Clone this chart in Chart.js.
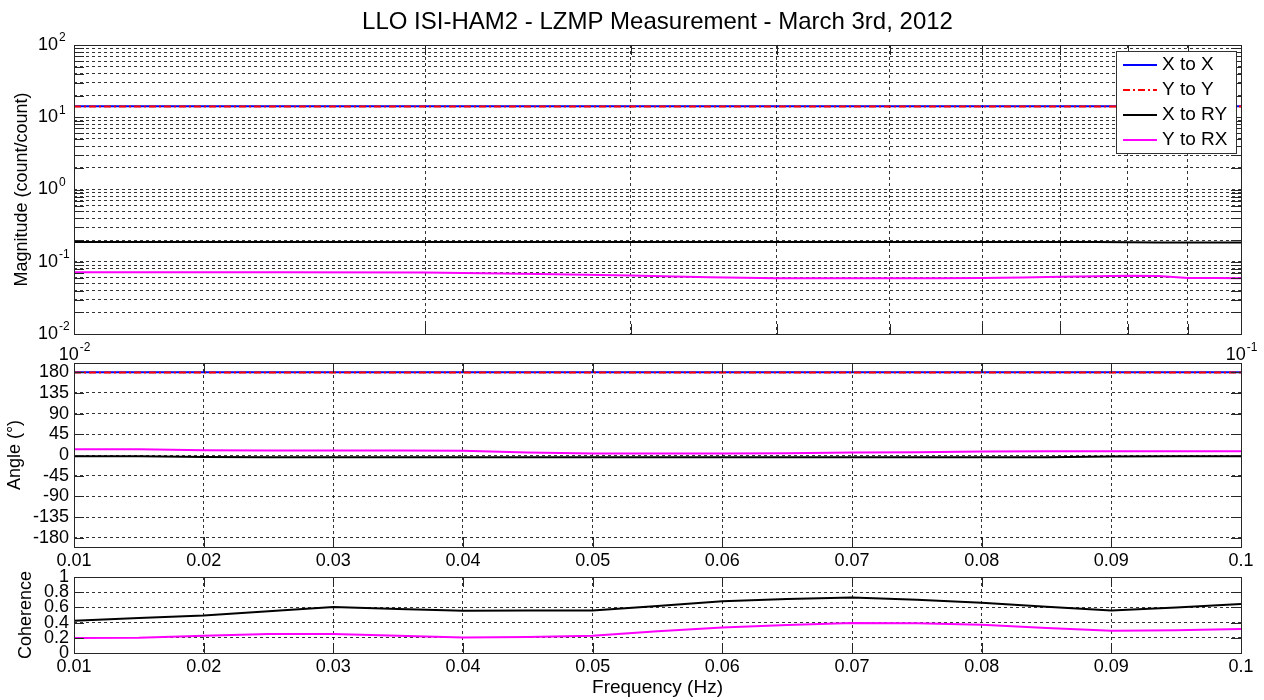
<!DOCTYPE html>
<html>
<head>
<meta charset="utf-8">
<title>LLO ISI-HAM2 - LZMP Measurement</title>
<script src="https://cdn.jsdelivr.net/npm/chart.js@4.4.0/dist/chart.umd.min.js"></script>
<style>
  html, body { margin: 0; padding: 0; background: #fff; }
  #wrap { position: relative; width: 1264px; height: 700px; }
  #wrap canvas { position: absolute; left: 0; top: 0; }
</style>
</head>
<body>
<div id="wrap">
  <canvas id="mag" width="1264" height="700"></canvas>
  <canvas id="ang" width="1264" height="700"></canvas>
  <canvas id="coh" width="1264" height="700"></canvas>
</div>
<script>
const FONT = "'Liberation Sans', Arial, Helvetica, sans-serif";
const GRID = 'rgba(0,0,0,0.8)';

// frequency points (Hz)
const freq = [0.01, 0.015, 0.02, 0.025, 0.03, 0.035, 0.04, 0.045, 0.05, 0.055,
              0.06, 0.065, 0.07, 0.075, 0.08, 0.085, 0.09, 0.095, 0.1];

const seriesNames = ['X to X', 'Y to Y', 'X to RY', 'Y to RX'];

// magnitude (count/count)
const magXtoX  = [14.2, 14.2, 14.2, 14.2, 14.2, 14.2, 14.2, 14.2, 14.2, 14.2,
                  14.2, 14.2, 14.2, 14.2, 14.2, 14.2, 14.2, 14.2, 14.2];
const magYtoY  = [14.1, 14.1, 14.1, 14.1, 14.1, 14.1, 14.1, 14.1, 14.1, 14.1,
                  14.1, 14.1, 14.1, 14.1, 14.1, 14.1, 14.1, 14.1, 14.1];
const magXtoRY = [0.187, 0.187, 0.187, 0.187, 0.187, 0.187, 0.187, 0.187, 0.187, 0.187,
                  0.187, 0.187, 0.187, 0.187, 0.186, 0.185, 0.185, 0.184, 0.184];
const magYtoRX = [0.0718, 0.0714, 0.0709, 0.0676, 0.0645, 0.0612, 0.0591, 0.059, 0.059, 0.0592,
                  0.0596, 0.0604, 0.0618, 0.063, 0.064, 0.0635, 0.0598, 0.0594, 0.0591];

// angle (deg)
const angXtoX  = [180, 180, 180, 180, 180, 180, 180, 180, 180, 180,
                  180, 180, 180, 180, 180, 180, 180, 180, 180];
const angYtoY  = [179.6, 179.6, 179.6, 179.6, 179.6, 179.6, 179.6, 179.6, 179.6, 179.6,
                  179.6, 179.6, 179.6, 179.6, 179.6, 179.6, 179.6, 179.6, 179.6];
const angXtoRY = [-2.6, -2.6, -4.5, -4.8, -4.8, -4.8, -4.8, -4.8, -4.8, -4.8,
                  -4.8, -4.8, -4.8, -4.8, -4.8, -4.8, -3.5, -2.6, -2.6];
const angYtoRX = [12.7, 12.7, 10.5, 10, 10, 10, 9, 5.5, 3.3, 3.3,
                  3.3, 4, 5.5, 6.1, 7.5, 8.3, 8.3, 8.3, 8.3];

// coherence
const cohXtoX  = [1, 1, 1, 1, 1, 1, 1, 1, 1, 1, 1, 1, 1, 1, 1, 1, 1, 1, 1];
const cohYtoY  = [1, 1, 1, 1, 1, 1, 1, 1, 1, 1, 1, 1, 1, 1, 1, 1, 1, 1, 1];
const cohXtoRY = [0.425, 0.46, 0.495, 0.55, 0.605, 0.58, 0.557, 0.558, 0.56, 0.62,
                  0.68, 0.71, 0.73, 0.70, 0.66, 0.61, 0.56, 0.60, 0.645];
const cohYtoRX = [0.197, 0.20, 0.228, 0.25, 0.25, 0.228, 0.205, 0.21, 0.228, 0.285,
                  0.337, 0.37, 0.395, 0.39, 0.372, 0.33, 0.293, 0.30, 0.316];

// ticks
const decadeExps = [-2, -1, 0, 1];
const minorSteps = [1, 2, 3, 4, 5, 6, 7, 8, 9];
const magYTicks = [];
decadeExps.forEach(e => minorSteps.forEach(m => magYTicks.push(+(m * Math.pow(10, e)).toPrecision(3))));
magYTicks.push(100);
const magXTicks = [0.01, 0.02, 0.03, 0.04, 0.05, 0.06, 0.07, 0.08, 0.09, 0.1];
const magYLabels = [-2, -1, 0, 1, 2];
const magXLabels = [-2, -1];
const freqTicks = [0.01, 0.02, 0.03, 0.04, 0.05, 0.06, 0.07, 0.08, 0.09, 0.1];
const angleTicks = [-180, -135, -90, -45, 0, 45, 90, 135, 180];
const cohTicks = [0, 0.2, 0.4, 0.6, 0.8, 1];

const seriesStyle = [
  { color: '#0000ff', dash: [] },
  { color: '#ff0000', dash: [7, 3, 2, 3] },
  { color: '#000000', dash: [] },
  { color: '#ff00ff', dash: [] }
];

function makeSets(rows) {
  return rows.map((vals, k) => ({
    label: seriesNames[k],
    data: freq.map((f, i) => ({ x: f, y: vals[i] })),
    borderColor: seriesStyle[k].color,
    borderDash: seriesStyle[k].dash,
    borderWidth: 2,
    pointRadius: 0,
    tension: 0,
    fill: false,
    order: 4 - k
  }));
}

function setTicks(list) {
  return s => { s.ticks = list.map(v => ({ value: v })); };
}

// box around plot area with inward tick marks, like the original
const frame = {
  id: 'frame',
  afterDraw(chart) {
    const { ctx, chartArea: a, scales } = chart;
    ctx.save();
    ctx.strokeStyle = '#262626';
    ctx.lineWidth = 1;
    ctx.setLineDash([]);
    ctx.beginPath();
    scales.x.ticks.forEach(t => {
      const px = Math.round(scales.x.getPixelForValue(t.value)) + 0.5;
      ctx.moveTo(px, a.bottom); ctx.lineTo(px, a.bottom - 10);
      ctx.moveTo(px, a.top); ctx.lineTo(px, a.top + 10);
    });
    scales.y.ticks.forEach(t => {
      const py = Math.round(scales.y.getPixelForValue(t.value)) + 0.5;
      ctx.moveTo(a.left, py); ctx.lineTo(a.left + 10, py);
      ctx.moveTo(a.right, py); ctx.lineTo(a.right - 10, py);
    });
    ctx.stroke();
    ctx.strokeRect(Math.round(a.left) + 0.5, Math.round(a.top) + 0.5,
                   Math.round(a.right - a.left), Math.round(a.bottom - a.top));
    ctx.restore();
  }
};

function drawPow(ctx, e, x, y, align) {
  const base = '10', sup = String(e);
  ctx.font = '18px ' + FONT;
  const wb = ctx.measureText(base).width;
  ctx.font = '12px ' + FONT;
  const ws = ctx.measureText(sup).width;
  const x0 = align === 'right' ? x - wb : x - (wb + ws) / 2;
  ctx.fillStyle = '#000';
  ctx.textAlign = 'left';
  ctx.textBaseline = 'middle';
  ctx.font = '18px ' + FONT;
  ctx.fillText(base, x0, y);
  ctx.font = '12px ' + FONT;
  ctx.fillText(sup, x0 + wb + 1, y - 7);
}

const magExtras = {
  id: 'magExtras',
  afterDraw(chart) {
    const { ctx, chartArea: a, scales } = chart;
    ctx.save();
    // log tick labels
    magYLabels.forEach(e => drawPow(ctx, e, a.left - 16, scales.y.getPixelForValue(Math.pow(10, e)), 'right'));
    magXLabels.forEach(e => drawPow(ctx, e, scales.x.getPixelForValue(Math.pow(10, e)), a.bottom + 21, 'center'));
    // title
    ctx.fillStyle = '#000';
    ctx.font = '24px ' + FONT;
    ctx.textAlign = 'center';
    ctx.textBaseline = 'alphabetic';
    ctx.fillText('LLO ISI-HAM2 - LZMP Measurement - March 3rd, 2012', (a.left + a.right) / 2, 29);
    // legend
    const bx = 1116, by = 51, bw = 120, bh = 102;
    ctx.fillStyle = '#fff';
    ctx.fillRect(bx, by, bw, bh);
    ctx.strokeStyle = '#333';
    ctx.lineWidth = 1;
    ctx.strokeRect(bx + 0.5, by + 0.5, bw, bh);
    chart.data.datasets.forEach((ds, i) => {
      const ry = 65 + i * 25;
      ctx.strokeStyle = ds.borderColor;
      ctx.lineWidth = 2;
      ctx.setLineDash(ds.borderDash);
      ctx.beginPath();
      ctx.moveTo(1123, ry); ctx.lineTo(1157, ry);
      ctx.stroke();
      ctx.setLineDash([]);
      ctx.fillStyle = '#000';
      ctx.font = '19px ' + FONT;
      ctx.textAlign = 'left';
      ctx.textBaseline = 'middle';
      ctx.fillText(ds.label, 1162, ry);
    });
    ctx.restore();
  }
};

const tickFont = { family: FONT, size: 18 };
const titleFont = { family: FONT, size: 18 };

function baseOptions(pad, xScale, yScale) {
  return {
    responsive: false,
    animation: false,
    events: [],
    layout: { padding: pad },
    plugins: { legend: { display: false }, tooltip: { enabled: false }, title: { display: false } },
    scales: { x: xScale, y: yScale }
  };
}

const gridOpts = { color: GRID, lineWidth: 1, drawTicks: false };
const borderOpts = { display: false, dash: [3, 3] };

// magnitude panel
new Chart(document.getElementById('mag'), {
  type: 'line',
  data: { datasets: makeSets([magXtoX, magYtoY, magXtoRY, magYtoRX]) },
  options: baseOptions({ left: 0, right: 23, top: 45, bottom: 336 }, {
    type: 'logarithmic', min: 0.01, max: 0.1,
    afterBuildTicks: setTicks(magXTicks),
    afterFit: s => { s.height = 30; },
    ticks: { display: false },
    grid: gridOpts, border: borderOpts
  }, {
    type: 'logarithmic', min: 0.01, max: 100,
    afterBuildTicks: setTicks(magYTicks),
    afterFit: s => { s.width = 74; },
    ticks: { display: false },
    grid: gridOpts, border: borderOpts,
    title: { display: true, text: 'Magnitude (count/count)', font: titleFont, color: '#000', padding: { top: 11, bottom: 0 } }
  }),
  plugins: [frame, magExtras]
});

// angle panel
new Chart(document.getElementById('ang'), {
  type: 'line',
  data: { datasets: makeSets([angXtoX, angYtoY, angXtoRY, angYtoRX]) },
  options: baseOptions({ left: 0, right: 23, top: 363, bottom: 123 }, {
    type: 'linear', min: 0.01, max: 0.1,
    afterBuildTicks: setTicks(freqTicks),
    afterFit: s => { s.height = 30; },
    ticks: { font: tickFont, color: '#000', padding: 3, autoSkip: false, maxRotation: 0, callback: v => String(v) },
    grid: gridOpts, border: borderOpts
  }, {
    type: 'linear', min: -200, max: 200,
    afterBuildTicks: setTicks(angleTicks),
    afterFit: s => { s.width = 74; },
    ticks: { font: tickFont, color: '#000', padding: 5, autoSkip: false, callback: v => String(v) },
    grid: gridOpts, border: borderOpts,
    title: { display: true, text: 'Angle (°)', font: titleFont, color: '#000', padding: { top: 4, bottom: 0 } }
  }),
  plugins: [frame]
});

// coherence panel
new Chart(document.getElementById('coh'), {
  type: 'line',
  data: { datasets: makeSets([cohXtoX, cohYtoY, cohXtoRY, cohYtoRX]) },
  options: baseOptions({ left: 0, right: 23, top: 577, bottom: 0 }, {
    type: 'linear', min: 0.01, max: 0.1,
    afterBuildTicks: setTicks(freqTicks),
    afterFit: s => { s.height = 47; },
    ticks: { font: tickFont, color: '#000', padding: 3, autoSkip: false, maxRotation: 0, callback: v => String(v) },
    grid: gridOpts, border: borderOpts,
    title: { display: true, text: 'Frequency (Hz)', font: { family: FONT, size: 19 }, color: '#000', padding: { top: 0, bottom: 1 } }
  }, {
    type: 'linear', min: 0, max: 1,
    afterBuildTicks: setTicks(cohTicks),
    afterFit: s => { s.width = 74; },
    ticks: { font: tickFont, color: '#000', padding: 5, autoSkip: false, callback: v => String(v) },
    grid: gridOpts, border: borderOpts,
    title: { display: true, text: 'Coherence', font: titleFont, color: '#000', padding: { top: 15, bottom: 0 } }
  }),
  plugins: [frame]
});
</script>
</body>
</html>
